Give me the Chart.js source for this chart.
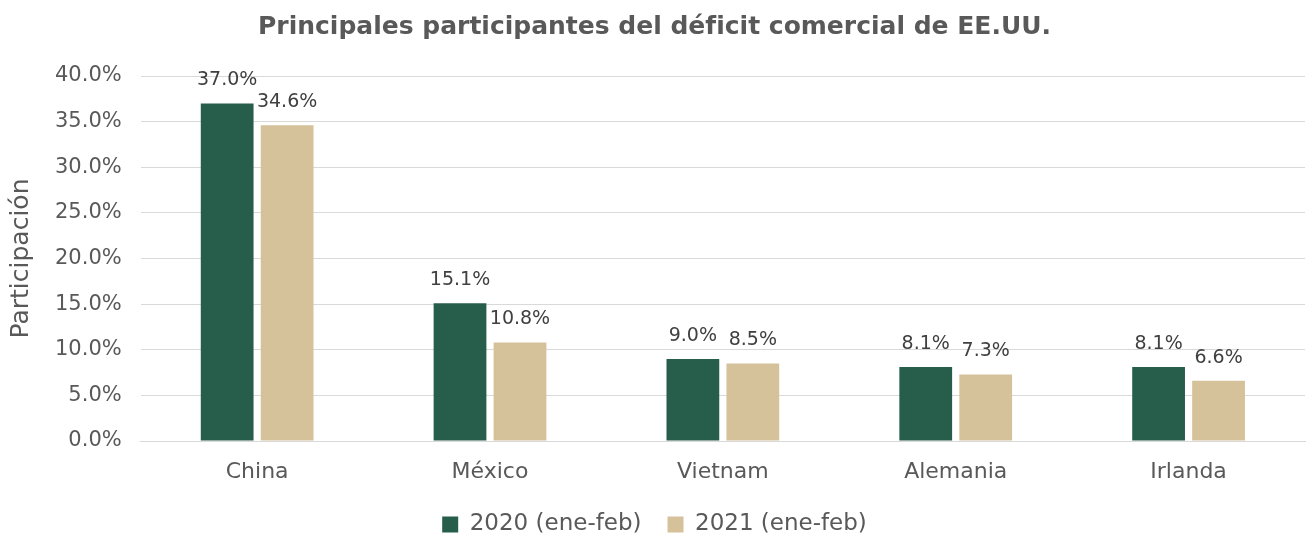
<!DOCTYPE html>
<html lang="es">
<head>
    <meta charset="UTF-8">
    <title>Principales participantes del déficit comercial de EE.UU.</title>
    <script src="https://cdn.jsdelivr.net/npm/chart.js"></script>
    <style>
        html, body { margin: 0; padding: 0; background: #fff; }
        #wrap { width: 1306px; height: 535px; }
    </style>
</head>
<body>
    <div id="wrap"><canvas id="myChart"></canvas></div>

    <script>
        const categories = ['China', 'México', 'Vietnam', 'Alemania', 'Irlanda'];
        const seriesNames = ['2020 (ene-feb)', '2021 (ene-feb)'];
        const values2020 = [37.0, 15.1, 9.0, 8.1, 8.1];
        const values2021 = [34.6, 10.8, 8.5, 7.3, 6.6];
        const yTicks = [0, 5, 10, 15, 20, 25, 30, 35, 40];

        const FONT = '"DejaVu Sans", sans-serif';

        const barLabelPlugin = {
            id: 'barLabelPlugin',
            afterDatasetsDraw(chart) {
                const {ctx} = chart;
                ctx.save();
                ctx.font = '19px ' + FONT;
                ctx.fillStyle = '#404040';
                ctx.textAlign = 'center';
                ctx.textBaseline = 'middle';
                chart.data.datasets.forEach((ds, i) => {
                    const meta = chart.getDatasetMeta(i);
                    meta.data.forEach((bar, j) => {
                        ctx.fillText(ds.data[j].toFixed(1) + '%', bar.x, bar.y - 23);
                    });
                });
                ctx.restore();
            }
        };

        // shorter legend box so it sits close to the bottom edge
        const legendHeightPlugin = {
            id: 'legendHeightPlugin',
            afterInit(chart) {
                const legend = chart.legend;
                const fit = legend.fit.bind(legend);
                legend.fit = function () {
                    fit();
                    this.height = 48;
                };
            }
        };

        const config = {
            type: 'bar',
            data: {
                labels: categories,
                datasets: [
                    {
                        label: seriesNames[0],
                        data: values2020,
                        backgroundColor: '#275d4b',
                        categoryPercentage: 0.515,
                        barPercentage: 0.88
                    },
                    {
                        label: seriesNames[1],
                        data: values2021,
                        backgroundColor: '#d5c19a',
                        categoryPercentage: 0.515,
                        barPercentage: 0.88
                    }
                ]
            },
            options: {
                responsive: true,
                maintainAspectRatio: false,
                animation: false,
                layout: { padding: { top: 2, right: 1, left: 4, bottom: 0 } },
                plugins: {
                    title: {
                        display: true,
                        text: 'Principales participantes del déficit comercial de EE.UU.',
                        color: '#595959',
                        font: { family: FONT, size: 25, weight: 'bold' },
                        padding: { top: 10, bottom: 34 }
                    },
                    legend: {
                        position: 'bottom',
                        labels: {
                            color: '#595959',
                            font: { family: FONT, size: 23 },
                            boxWidth: 16,
                            boxHeight: 16,
                            padding: 26
                        }
                    },
                    tooltip: { enabled: false }
                },
                scales: {
                    x: {
                        afterFit(scale) { scale.height = 46; },
                        grid: { display: false, drawTicks: false },
                        border: { color: '#d9d9d9' },
                        ticks: {
                            color: '#595959',
                            font: { family: FONT, size: 22 },
                            padding: 18
                        }
                    },
                    y: {
                        min: 0,
                        max: 40,
                        afterBuildTicks(axis) {
                            axis.ticks = yTicks.map(v => ({ value: v }));
                        },
                        grid: { color: '#d9d9d9', drawTicks: false },
                        border: { display: false },
                        ticks: {
                            color: '#595959',
                            font: { family: FONT, size: 21 },
                            padding: 19,
                            callback: v => v.toFixed(1) + '%'
                        },
                        title: {
                            display: true,
                            text: 'Participación',
                            color: '#595959',
                            font: { family: FONT, size: 25 },
                            padding: { top: 2, bottom: 0 }
                        }
                    }
                }
            },
            plugins: [barLabelPlugin, legendHeightPlugin]
        };

        new Chart(document.getElementById('myChart'), config);
    </script>
</body>
</html>
